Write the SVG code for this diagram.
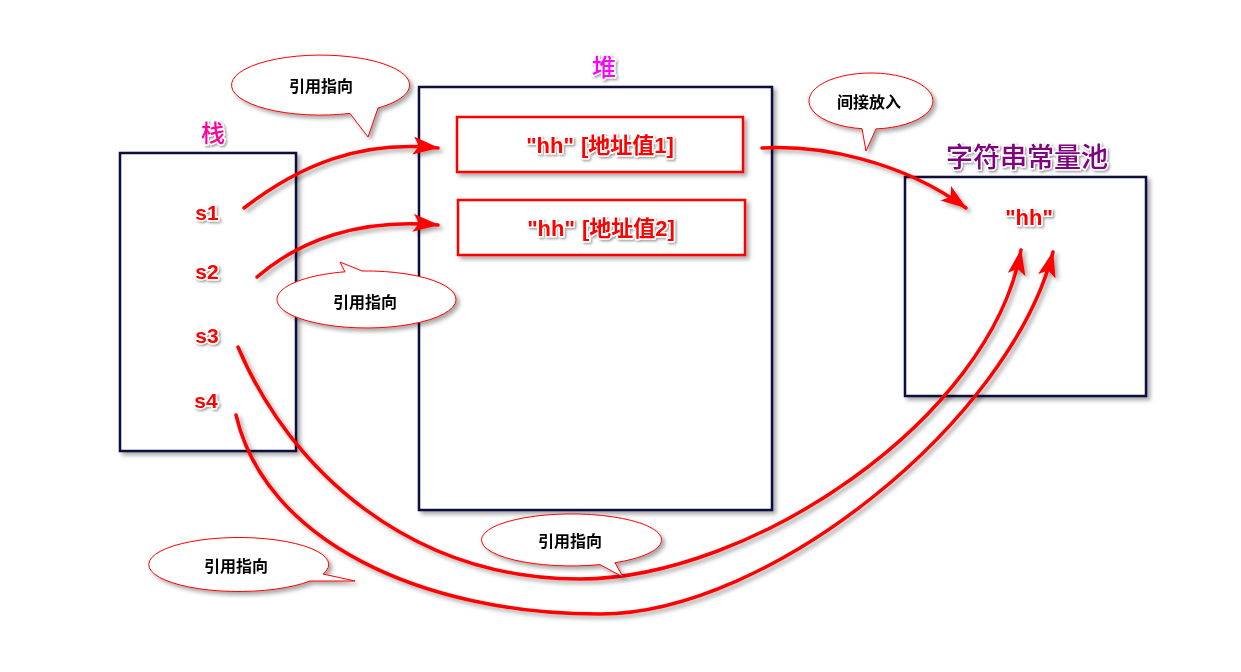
<svg xmlns="http://www.w3.org/2000/svg" width="1241" height="672" viewBox="0 0 1241 672">
<style>
.box{fill:#fff;stroke:#0A0A40;stroke-width:2.5}
.rbox{fill:#fff;stroke:#FF0000;stroke-width:2.5}
.lbl{font-family:"Liberation Sans","Noto Sans CJK SC",sans-serif;font-weight:bold;fill:#FF0000;text-anchor:middle;stroke:#fff;stroke-width:3;paint-order:stroke;stroke-linejoin:round}
.ttl{font-family:"Noto Sans CJK SC",sans-serif;font-weight:500;text-anchor:middle;stroke:#fff;stroke-width:3;paint-order:stroke;stroke-linejoin:round}
.call{fill:#fff;stroke:#FF0000;stroke-width:1}
.ctext{font-family:"Noto Sans CJK SC",sans-serif;font-weight:bold;font-size:16px;fill:#000;text-anchor:middle}
.con{fill:none;stroke:#FF0000;stroke-width:3.5;stroke-linecap:round}
</style>
<defs>
<filter id="sh" x="-20%" y="-20%" width="140%" height="140%">
<feDropShadow dx="3" dy="3" stdDeviation="2" flood-color="#000" flood-opacity="0.35"/>
</filter>
<filter id="ts" x="-20%" y="-30%" width="140%" height="160%">
<feDropShadow dx="1.5" dy="1.5" stdDeviation="1.2" flood-color="#000" flood-opacity="0.4"/>
</filter>
<marker id="ah" markerUnits="userSpaceOnUse" markerWidth="30" markerHeight="20" refX="25" refY="9" orient="auto">
<path d="M0,0 L26,9 L0,18 L6,9 Z" fill="#FF0000"/>
</marker>
</defs>

<g id="stack" filter="url(#sh)">
<rect class="box" x="120" y="153" width="176" height="298"/>
</g>
<g id="heap" filter="url(#sh)">
<rect class="box" x="419" y="87" width="353" height="423"/>
</g>
<g id="pool" filter="url(#sh)">
<rect class="box" x="905" y="177" width="241" height="219"/>
</g>
<g id="heap-obj1" filter="url(#sh)">
<rect class="rbox" x="457" y="117" width="286" height="55"/>
</g>
<g id="heap-obj2" filter="url(#sh)">
<rect class="rbox" x="458" y="200" width="287" height="55"/>
</g>

<g id="titles" filter="url(#ts)">
<text class="ttl" x="213" y="142" font-size="24" fill="#FF0099">栈</text>
<text class="ttl" x="604" y="76" font-size="24" fill="#FF00FF">堆</text>
<text class="ttl" x="1027" y="167" font-size="27" fill="#800080">字符串常量池</text>
</g>

<g id="labels" filter="url(#ts)">
<text class="lbl" x="207" y="220" font-size="21">s1</text>
<text class="lbl" x="207" y="279" font-size="21">s2</text>
<text class="lbl" x="207" y="343" font-size="21">s3</text>
<text class="lbl" x="206" y="408" font-size="21">s4</text>
<text class="lbl" x="600" y="153" font-size="22">"hh"<tspan dx="7">[地址值1]</tspan></text>
<text class="lbl" x="601" y="236" font-size="22">"hh"<tspan dx="7">[地址值2]</tspan></text>
<text class="lbl" x="1029" y="225" font-size="22">"hh"</text>
</g>

<g id="connectors" filter="url(#sh)">
<path class="con" d="M244,208 C300,165 360,140 438,148" marker-end="url(#ah)"/>
<path class="con" d="M257,277 C300,240 360,218 438,225" marker-end="url(#ah)"/>
<path class="con" d="M762,148 C820,145 900,160 966,208" marker-end="url(#ah)"/>
<path class="con" d="M238,347 C290,470 410,579 580,579 C750,579 990,420 1021,250" marker-end="url(#ah)"/>
<path class="con" d="M236,415 C265,540 420,614 600,614 C770,614 1010,420 1053,252" marker-end="url(#ah)"/>
</g>

<g id="callout1" filter="url(#sh)">
<path class="call" d="M378,108 L368,137 L350,113.4 A89,30 0 1 1 378,108 Z"/>
<text class="ctext" x="321" y="92">引用指向</text>
</g>
<g id="callout2" filter="url(#sh)">
<path class="call" d="M345,271.8 L340,262 L362,271 A89.5,28.5 0 1 1 345,271.8 Z"/>
<text class="ctext" x="365" y="308">引用指向</text>
</g>
<g id="callout3" filter="url(#sh)">
<path class="call" d="M876,128.9 L866,151 L862,128.7 A62,28 0 1 1 876,128.9 Z"/>
<text class="ctext" x="869" y="108">间接放入</text>
</g>
<g id="callout4" filter="url(#sh)">
<path class="call" d="M615,562.7 L623,577 L600,564.6 A90,26 0 1 1 615,562.7 Z"/>
<text class="ctext" x="570" y="547">引用指向</text>
</g>
<g id="callout5" filter="url(#sh)">
<path class="call" d="M323,574 L355,581 L310,581 A90,27 0 1 1 323,574 Z"/>
<text class="ctext" x="236" y="572">引用指向</text>
</g>
</svg>
